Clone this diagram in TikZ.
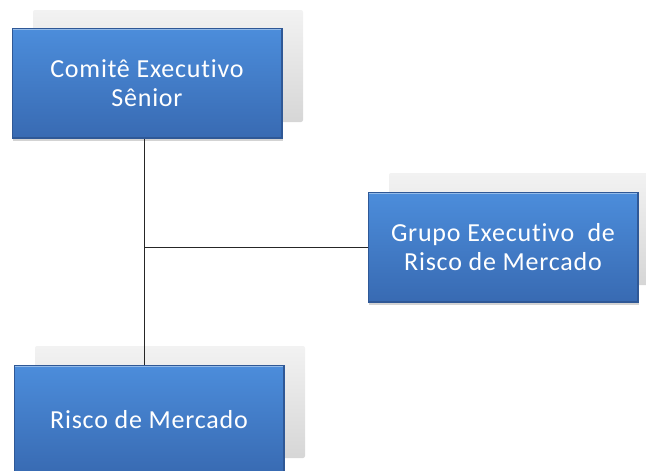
\documentclass[tikz,border=0pt]{standalone}
\usepackage{fontspec}
\setmainfont{Carlito}[Ligatures = NoCommon]
\usetikzlibrary{shadows}

\definecolor{azulclaro}{RGB}{76,141,219}
\definecolor{azulescuro}{RGB}{56,106,178}
\definecolor{azulborda}{RGB}{47,88,150}

\begin{document}
\begin{tikzpicture}[x = 1pt, y = -1pt,
    cargo/.style = {shape = rectangle, minimum width = 270pt, minimum height = 110pt, inner sep = 0pt,
        top color = azulclaro, bottom color = azulescuro, draw = azulborda, line width = 0.8pt,
        text = white, align = center,
        font = \fontsize{26}{29}\selectfont\addfontfeature{LetterSpace = 3},
        drop shadow = {shadow xshift = 1pt, shadow yshift = -2pt, opacity = 0.35},
        path picture = {
            \draw[white!40!azulclaro, line width = 3pt] (path picture bounding box.north west) -- (path picture bounding box.north east);
            \draw[azulborda, line width = 3pt] (path picture bounding box.south east) -- (path picture bounding box.north east);
            \draw[azulborda, line width = 3pt] (path picture bounding box.south west) -- (path picture bounding box.south east);}},
    sombra/.style = {shape = rectangle, minimum width = 270pt, minimum height = 112pt, inner sep = 0pt,
        rounded corners = 2pt, top color = gray!10, bottom color = gray!32, draw = none},
    linha/.style = {draw = black!85, line width = 1pt}]
    \useasboundingbox (0,0) rectangle (646,471);
    % sombras
    \node[sombra] (comite sombra) at (168,66) {};
    \node[sombra] (grupo sombra) at (524,229) {};
    \node[sombra] (risco sombra) at (170,402) {};
    % caixas
    \node[cargo] (comite) at (147,83.5) {Comitê Executivo\\Sênior};
    \node[cargo] (grupo) at (503,247.5) {Grupo Executivo \ de\\Risco de Mercado};
    \node[cargo] (risco) at (149,420) {Risco de Mercado};
    \coordinate (juncao) at (144.5,247.5);
    \draw[linha] (comite.south -| juncao) -- (risco.north -| juncao);
    \draw[linha] (juncao) -- (grupo.west);
\end{tikzpicture}
\end{document}
